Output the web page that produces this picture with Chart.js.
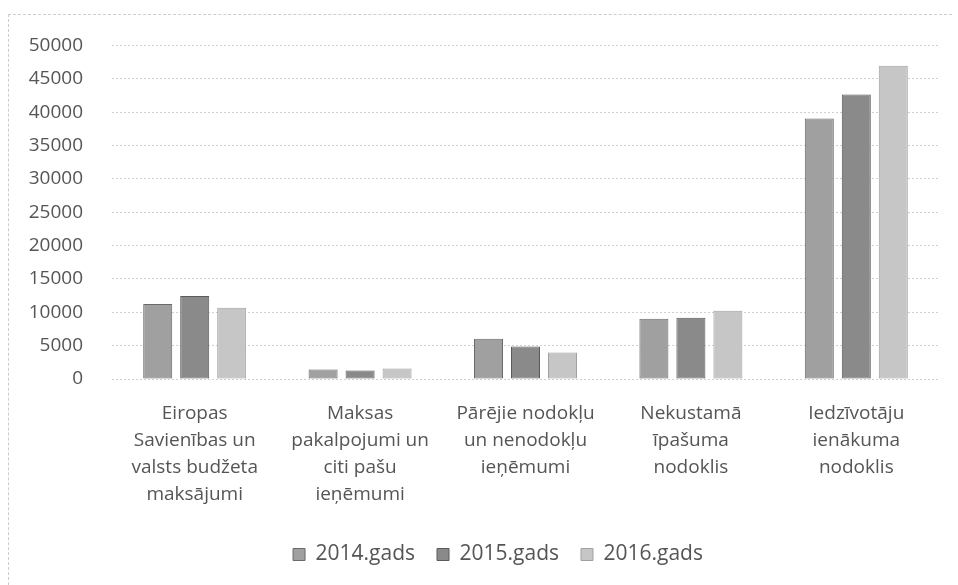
<!DOCTYPE html>
<html>
<head>
<meta charset="utf-8">
<script src="https://cdn.jsdelivr.net/npm/chart.js@4/dist/chart.umd.min.js"></script>
<style>
  html, body { margin: 0; padding: 0; background: #fff; overflow: hidden; }
  #frame { position: absolute; left: 8px; top: 14px; width: 944px; height: 571px;
           border-top: 1px dashed #ccc; border-left: 1px dashed #ccc; box-sizing: border-box; }
  #barChart { position: absolute; left: 9px; top: 5px; }
</style>
</head>
<body>
<div id="frame"></div>
<canvas id="barChart"></canvas>
<script>
// kategorijas (sadalītas rindās)
var categories = [
  ['Eiropas', 'Savienības un', 'valsts budžeta', 'maksājumi'],
  ['Maksas', 'pakalpojumi un', 'citi pašu', 'ieņēmumi'],
  ['Pārējie nodokļu', 'un nenodokļu', 'ieņēmumi'],
  ['Nekustamā', 'īpašuma', 'nodoklis'],
  ['Iedzīvotāju', 'ienākuma', 'nodoklis']
];
var seriesNames = ['2014.gads', '2015.gads', '2016.gads'];
var values2014 = [11250, 1450, 6050, 9050, 39050];
var values2015 = [12450, 1300, 4900, 9200, 42650];
var values2016 = [10700, 1600, 4000, 10250, 46950];
var yTicks = [0, 5000, 10000, 15000, 20000, 25000, 30000, 35000, 40000, 45000, 50000];

var fills = ['#a0a0a0', '#8a8a8a', '#c6c6c6'];
var borders = ['#6a6a6a', '#5a5a5a', '#a0a0a0'];
var seriesData = [values2014, values2015, values2016];

// leģendu nobīda pa labi, kā oriģinālā
var legendShift = {
  id: 'legendShift',
  afterLayout: function(chart) {
    var lg = chart.legend;
    lg.left += 24; lg.right += 24;
    lg.top += 1; lg.bottom += 1;
  }
};

var canvas = document.getElementById('barChart');
canvas.width = 943; canvas.height = 580;

var ctx = canvas.getContext('2d');
var myChart = new Chart(ctx, {
  type: 'bar',
  data: {
    labels: categories,
    datasets: seriesNames.map(function(name, i) {
      return {
        label: name,
        data: seriesData[i],
        backgroundColor: fills[i],
        borderColor: borders[i],
        borderWidth: 1,
        borderSkipped: false,
        categoryPercentage: 0.671,
        barPercentage: 0.784
      };
    })
  },
  options: {
    responsive: false,
    animation: false,
    layout: { padding: { left: 0, right: 13, top: 0, bottom: 11 } },
    scales: {
      x: {
        grid: { display: false },
        border: { display: false },
        ticks: { color: '#555', font: { family: 'Open Sans', size: 19, lineHeight: 1.42 }, maxRotation: 0, padding: 13 }
      },
      y: {
        min: 0, max: 50000,
        afterBuildTicks: function(axis) { axis.ticks = yTicks.map(function(v) { return { value: v }; }); },
        afterFit: function(axis) { axis.width = 103; },
        grid: { color: '#d0d0d0', drawTicks: false },
        border: { display: false, dash: [2, 2] },
        ticks: { color: '#555', font: { family: 'Open Sans', size: 19 }, padding: 29,
                 callback: function(v) { return String(v); } }
      }
    },
    plugins: {
      legend: {
        position: 'bottom',
        labels: { color: '#555', font: { family: 'Open Sans', size: 21 }, boxWidth: 12, boxHeight: 12, padding: 22 }
      },
      tooltip: { enabled: false }
    }
  },
  plugins: [legendShift]
});
</script>
</body>
</html>
